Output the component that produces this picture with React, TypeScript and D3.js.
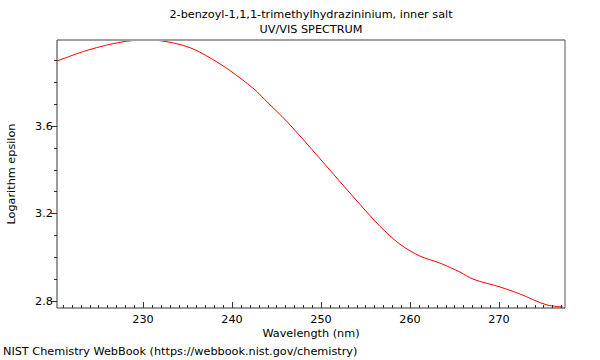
import React from "react";
import * as d3 from "d3";

const wavelengths = [220.34, 223.82, 227.64, 230.0, 231.91, 235.28, 238.65, 240.9, 242.02, 242.58, 243.71, 246.29, 248.99, 251.91, 254.38, 256.63, 258.88, 261.12, 263.37, 265.62, 267.08, 270.11, 272.36, 275.39, 277.19];
const logEps = [3.895, 3.945, 3.982, 3.991, 3.988, 3.956, 3.882, 3.818, 3.782, 3.764, 3.718, 3.614, 3.491, 3.355, 3.241, 3.141, 3.059, 3.005, 2.973, 2.932, 2.9, 2.864, 2.832, 2.782, 2.773];
const xTicks = [230, 240, 250, 260, 270];
const yTicks = [2.8, 3.2, 3.6];
const titleLines = ["2-benzoyl-1,1,1-trimethylhydrazininium, inner salt", "UV/VIS SPECTRUM"];
const xLabel = "Wavelength (nm)";
const yLabel = "Logarithm epsilon";
const footer = "NIST Chemistry WebBook (https://webbook.nist.gov/chemistry)";

const W = 600, H = 360;
const L = 57, R = 565, T = 40, B = 308;
const font = "DejaVu Sans, sans-serif";
const fs = 11.25;

export default function App() {
  const x = d3.scaleLinear().domain([220.34, 277.42]).range([L, R]);
  const y = d3.scaleLinear().domain([2.768, 3.991]).range([B, T]);
  const line = d3
    .line<number>()
    .x((_, i) => x(wavelengths[i]))
    .y((d) => y(d))
    .curve(d3.curveCatmullRom);
  const minorX = d3.range(221, 278, 1).filter((v) => v % 10 !== 0);
  const minorY = d3.range(28, 40, 1).map((v) => v / 10).filter((v) => !yTicks.some((t) => Math.abs(t - v) < 1e-6));
  const cx = (L + R) / 2;
  return (
    <div style={{ position: "absolute", left: 0, top: 0 }}>
      <svg width={W} height={H} style={{ display: "block", background: "#fff" }}>
        <text x={cx} y={18} textAnchor="middle" fontFamily={font} fontSize={fs}>{titleLines[0]}</text>
        <text x={cx} y={33} textAnchor="middle" fontFamily={font} fontSize={fs}>{titleLines[1]}</text>
        <defs>
          <clipPath id="plot"><rect x={L} y={T} width={R - L} height={B - T} /></clipPath>
        </defs>
        <path d={line(logEps) || ""} fill="none" stroke="#ff0000" strokeWidth={1} clipPath="url(#plot)" />
        <line x1={L} x2={R} y1={T} y2={T} stroke="#a0a0a0" strokeWidth={2} />
        <line x1={R} x2={R} y1={T} y2={B} stroke="#555" strokeWidth={1} />
        <line x1={L} x2={L} y1={T} y2={B} stroke="#333" strokeWidth={1} />
        <line x1={L} x2={R} y1={B} y2={B} stroke="#333" strokeWidth={1} />
        {minorX.map((v) => (
          <line key={"mx" + v} x1={Math.round(x(v)) + 0.5} x2={Math.round(x(v)) + 0.5} y1={B} y2={B - 3} stroke="#333" />
        ))}
        {xTicks.map((v) => (
          <g key={"x" + v}>
            <line x1={Math.round(x(v)) + 0.5} x2={Math.round(x(v)) + 0.5} y1={B} y2={B - 6} stroke="#333" />
            <text x={x(v)} y={323} textAnchor="middle" fontFamily={font} fontSize={fs}>{v}</text>
          </g>
        ))}
        {minorY.map((v) => (
          <line key={"my" + v} x1={L} x2={L - 3} y1={Math.round(y(v)) + 0.5} y2={Math.round(y(v)) + 0.5} stroke="#333" />
        ))}
        {yTicks.map((v) => (
          <g key={"y" + v}>
            <line x1={L} x2={L - 6} y1={Math.round(y(v)) + 0.5} y2={Math.round(y(v)) + 0.5} stroke="#333" />
            <text x={L - 4} y={y(v) + 4} textAnchor="end" fontFamily={font} fontSize={fs}>{v.toFixed(1)}</text>
          </g>
        ))}
        <text x={cx} y={337} textAnchor="middle" fontFamily={font} fontSize={fs}>{xLabel}</text>
        <text transform={`translate(15,${(T + B) / 2}) rotate(-90)`} textAnchor="middle" fontFamily={font} fontSize={fs}>{yLabel}</text>
        <text x={3} y={355} fontFamily={font} fontSize={fs}>{footer}</text>
      </svg>
    </div>
  );
}
